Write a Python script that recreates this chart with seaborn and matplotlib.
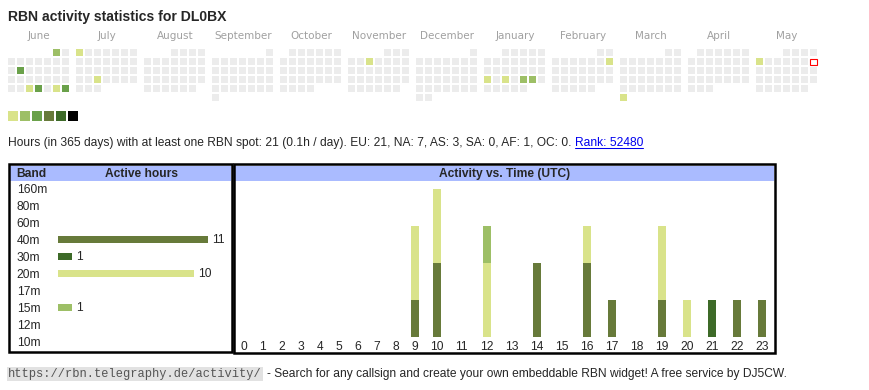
import numpy as np
import pandas as pd
import seaborn as sns
import matplotlib.pyplot as plt
from matplotlib.patches import Rectangle

# ---- data ----
callsign = "DL0BX"
months = ["June", "July", "August", "September", "October", "November",
          "December", "January", "February", "March", "April", "May"]
cal_start = "2024-06-01"
cal_end = "2025-05-31"
today = "2025-05-11"
active_days = ["2024-06-01", "2024-06-11", "2024-06-26", "2024-06-27", "2024-06-29",
               "2024-06-30", "2024-07-01", "2024-07-24", "2024-11-06", "2025-01-20",
               "2025-01-22", "2025-01-24", "2025-01-25", "2025-02-09", "2025-03-31",
               "2025-05-05"]
active_levels = [2, 3, 1, 3, 1, 3, 1, 1, 1, 1, 1, 2, 2, 1, 1, 1]
level_colors = ["#d9e38a", "#9dbf66", "#6aa14a", "#677a3a", "#3d6a28", "#000000"]

bands = ["160m", "80m", "60m", "40m", "30m", "20m", "17m", "15m", "12m", "10m"]
band_hours = [0, 0, 0, 11, 1, 10, 0, 1, 0, 0]
band_colors = {"40m": "#677a3a", "30m": "#3d6a28", "20m": "#d9e38a", "15m": "#9dbf66"}

hours = list(range(24))
hrs_40m = [0, 0, 0, 0, 0, 0, 0, 0, 0, 1, 2, 0, 0, 0, 2, 0, 2, 1, 0, 1, 0, 0, 1, 1]
hrs_30m = [0, 0, 0, 0, 0, 0, 0, 0, 0, 0, 0, 0, 0, 0, 0, 0, 0, 0, 0, 0, 0, 1, 0, 0]
hrs_20m = [0, 0, 0, 0, 0, 0, 0, 0, 0, 2, 2, 0, 2, 0, 0, 0, 1, 0, 0, 2, 1, 0, 0, 0]
hrs_15m = [0, 0, 0, 0, 0, 0, 0, 0, 0, 0, 0, 0, 1, 0, 0, 0, 0, 0, 0, 0, 0, 0, 0, 0]

n_days = 365
total_hours = 21
continents = ["EU", "NA", "AS", "SA", "AF", "OC"]
continent_hours = [21, 7, 3, 0, 1, 0]
rank = 52480

# ---- figure ----
sns.set_style("white")
plt.rcParams['font.family'] = ['Liberation Sans', 'DejaVu Sans']
FS = 8.62

fig = plt.figure(figsize=(8.7, 3.9), dpi=100)
bg = fig.add_axes([0, 0, 1, 1])
bg.set_xlim(0, 870)
bg.set_ylim(390, 0)
bg.axis('off')

bg.text(8, 20.7, f"RBN activity statistics for {callsign}", fontsize=10.05,
        fontweight='bold', va='baseline')

# calendar
for m, name in enumerate(months):
    bg.text(8 + 68 * m + 31, 39, name, fontsize=7.5, color='#a0a0a0', ha='center',
            va='baseline', family='DejaVu Sans')

cal = pd.DataFrame({"date": pd.date_range(cal_start, cal_end, freq="D")})
lvl = dict(zip(pd.to_datetime(active_days), active_levels))
cal["level"] = cal["date"].map(lvl).fillna(0).astype(int)
cal["block"] = (cal["date"].dt.year - 2024) * 12 + cal["date"].dt.month - 6
first = cal["date"] - pd.to_timedelta(cal["date"].dt.day - 1, unit="D")
cal["row"] = (cal["date"].dt.day - 1 + first.dt.weekday) // 7
cal["col"] = cal["date"].dt.weekday

for _, d in cal.iterrows():
    x = 8 + 68 * d["block"] + 9 * d["col"]
    y = 49 + 9 * d["row"]
    if d["date"] == pd.Timestamp(today):
        bg.add_patch(Rectangle((x + 0.5, y + 0.5), 6.5, 6.5, fc='white', ec='red', lw=0.8))
    else:
        c = level_colors[d["level"] - 1] if d["level"] > 0 else '#ececec'
        bg.add_patch(Rectangle((x, y), 7, 7, fc=c, ec='none'))

for i, c in enumerate(level_colors):
    bg.add_patch(Rectangle((8 + 12 * i, 111), 10, 10, fc=c, ec='none'))

# summary line
cont_txt = ", ".join(f"{k}: {v}" for k, v in zip(continents, continent_hours))
summary = (f"Hours (in {n_days} days) with at least one RBN spot: {total_hours} "
           f"({total_hours / n_days:.1f}h / day). {cont_txt}.")
t1 = bg.text(8, 146, summary, fontsize=FS, va='baseline')
r = fig.canvas.get_renderer()
x_end = t1.get_window_extent(renderer=r).x1 + 3.2
t2 = bg.text(x_end, 146, f"Rank: {rank}", fontsize=FS, va='baseline', color='#0000ee')
x_end2 = t2.get_window_extent(renderer=r).x1
bg.plot([x_end, x_end2], [147.5, 147.5], color='#0000ee', lw=0.75)

# table frames and headers
bg.add_patch(Rectangle((10.5, 165.5), 220.3, 15.5, fc='#aabbff', ec='none'))
bg.add_patch(Rectangle((235.5, 165.5), 538.8, 15.5, fc='#aabbff', ec='none'))
bg.add_patch(Rectangle((9.3, 164), 222.7, 187.7, fc='none', ec='black', lw=1.8))
bg.add_patch(Rectangle((234.3, 164), 541.2, 188.7, fc='none', ec='black', lw=1.8))
bg.text(16.7, 176.7, "Band", fontsize=FS, fontweight='bold', va='baseline')
bg.text(141.7, 176.7, "Active hours", fontsize=FS, fontweight='bold', va='baseline', ha='center')
bg.text(505, 176.7, "Activity vs. Time (UTC)", fontsize=FS, fontweight='bold',
        va='baseline', ha='center')

row_h = 16.93
for i, b in enumerate(bands):
    bg.text(16.7, 193.3 + row_h * i, b, fontsize=FS, va='baseline')

# band bars
unit_px = 13.6
ax_b = fig.add_axes([58 / 870, (390 - (189 + row_h * 9.5)) / 390, 170 / 870, row_h * 10 / 390])
bdf = pd.DataFrame({"band": bands, "hours": band_hours})
bdf = bdf[bdf["hours"] > 0]
sns.barplot(data=bdf, x="hours", y="band", order=bands, hue="band", palette=band_colors,
            orient="h", width=7 / row_h, saturation=1, legend=False, errorbar=None,
            linewidth=0, ax=ax_b)
for cont in ax_b.containers:
    ax_b.bar_label(cont, padding=3, fontsize=FS)
ax_b.set_xlim(0, 170 / unit_px)
ax_b.set_ylim(9.5, -0.5)
ax_b.axis('off')

# hour bars (stacked by overlaying cumulative totals)
col_w = np.array([19 if h < 10 else 25 for h in hours], dtype=float)
left = 234.2
centers = left + np.cumsum(col_w) - col_w / 2
bar_bottom, bar_top, unit_h = 337, 181, 37
ax_h = fig.add_axes([left / 870, (390 - bar_bottom) / 390, col_w.sum() / 870,
                     (bar_bottom - bar_top) / 390])
c40 = np.array(hrs_40m)
c30 = c40 + np.array(hrs_30m)
c20 = c30 + np.array(hrs_20m)
c15 = c20 + np.array(hrs_15m)
for vals, band in [(c15, "15m"), (c20, "20m"), (c30, "30m"), (c40, "40m")]:
    sns.barplot(x=centers, y=vals, native_scale=True, width=8 / col_w.min(),
                color=band_colors[band], saturation=1, errorbar=None, linewidth=0, ax=ax_h)
ax_h.set_xlim(left, left + col_w.sum())
ax_h.set_ylim(0, (bar_bottom - bar_top) / unit_h)
ax_h.axis('off')

for h, cx in zip(hours, centers):
    bg.text(cx, 350, str(h), fontsize=FS, ha='center', va='baseline')

# footer
url = "https://rbn.telegraphy.de/activity/"
tu = bg.text(8, 376.7, url, fontsize=FS, family='Liberation Mono', color='#555555',
             va='baseline', bbox=dict(boxstyle='square,pad=0.1', fc='#e2e2e2', ec='none'))
xu = tu.get_window_extent(renderer=r).x1 + 5
bg.text(xu, 376.7, "- Search for any callsign and create your own embeddable RBN widget! "
        "A free service by DJ5CW.", fontsize=FS, va='baseline')

fig.savefig("out.png", dpi=100)
